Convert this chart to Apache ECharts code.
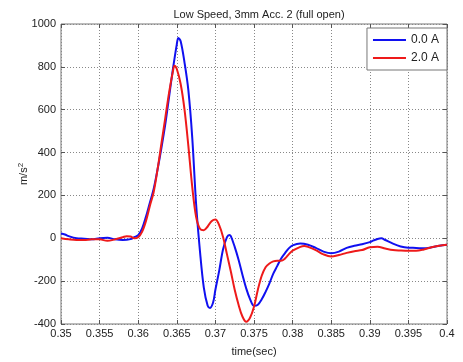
<!DOCTYPE html>
<html><head><meta charset="utf-8">
<script src="https://cdn.jsdelivr.net/npm/echarts@6/dist/echarts.min.js"></script>
<style>html,body{margin:0;padding:0;background:#fff}#c{width:463px;height:362px}</style>
</head><body><div id="c"></div>
<script>
var title = "Low Speed, 3mm Acc. 2 (full open)";
var seriesNames = ["0.0 A", "2.0 A"];
var tBlue = [0.350,0.3505,0.351,0.352,0.353,0.354,0.355,0.356,0.357,0.358,0.359,0.3595,0.360,0.3605,0.361,0.3615,0.362,0.3625,0.363,0.3635,0.364,0.3645,0.365,0.3652,0.3655,0.366,0.3665,0.367,0.3675,0.368,0.3685,0.369,0.3693,0.3697,0.370,0.3705,0.371,0.3715,0.3718,0.372,0.3725,0.373,0.3735,0.374,0.3745,0.375,0.3755,0.376,0.3765,0.377,0.3775,0.378,0.3785,0.379,0.3795,0.380,0.381,0.382,0.383,0.384,0.385,0.386,0.387,0.388,0.389,0.390,0.3905,0.391,0.3915,0.392,0.393,0.394,0.395,0.396,0.397,0.398,0.399,0.400];
var vBlue = [22,18,10,0,-2,-5,0,2,-5,-8,-4,5,15,45,100,165,230,320,420,530,660,790,905,935,920,820,690,470,160,-60,-230,-315,-325,-300,-240,-150,-50,5,15,10,-40,-100,-170,-235,-285,-315,-310,-285,-250,-210,-165,-130,-95,-70,-47,-33,-24,-30,-45,-62,-70,-62,-45,-35,-28,-18,-10,-3,0,-8,-25,-38,-44,-45,-47,-42,-35,-30];
var tRed = [0.350,0.351,0.352,0.353,0.354,0.355,0.356,0.357,0.358,0.3585,0.359,0.3595,0.360,0.3605,0.361,0.3615,0.362,0.3625,0.363,0.3635,0.364,0.3645,0.3647,0.365,0.3655,0.366,0.3665,0.367,0.3675,0.368,0.3685,0.369,0.3695,0.370,0.3705,0.371,0.3715,0.372,0.3725,0.373,0.3735,0.374,0.3745,0.375,0.3755,0.376,0.3765,0.377,0.3775,0.378,0.3785,0.379,0.3795,0.380,0.381,0.3815,0.382,0.383,0.384,0.385,0.386,0.387,0.388,0.389,0.390,0.391,0.392,0.393,0.394,0.395,0.396,0.397,0.398,0.399,0.400];
var vRed = [0,-5,-8,-8,-5,-5,-12,-5,5,10,8,0,5,30,80,150,215,320,440,560,680,780,805,790,720,600,430,240,100,45,38,55,80,88,60,5,-75,-155,-240,-310,-365,-390,-370,-320,-240,-175,-135,-118,-108,-105,-105,-95,-75,-58,-40,-36,-40,-55,-75,-85,-78,-68,-60,-55,-42,-40,-48,-55,-57,-58,-58,-52,-42,-35,-30];
var xLabel = "time(sec)";

function pairs(t, v){ return t.map(function(x,i){ return [x, v[i]]; }); }
var txt = '#222';
var ff = 'Liberation Sans, Arial';
var chart = echarts.init(document.getElementById('c'));
var tickStyle = {show:true, inside:true, length:4, lineStyle:{color:'#555'}};
chart.setOption({
  animation:false,
  backgroundColor:'#fff',
  title:{text:title, left:254, top:4, textAlign:'center', textStyle:{fontSize:11, fontWeight:'normal', color:txt, fontFamily:ff}},
  legend:{orient:'vertical', right:16, top:28, width:84, padding:[6,8,6,6], itemGap:6,
    backgroundColor:'#fff', borderColor:'#777', borderWidth:1,
    itemWidth:33, itemHeight:2, icon:'rect',
    textStyle:{fontSize:12, color:txt, fontFamily:ff},
    data:seriesNames},
  grid:{left:61, right:16, top:24, bottom:36, show:true, borderColor:'#777', borderWidth:1},
  xAxis:[{type:'value', min:0.35, max:0.4, interval:0.005,
    name:xLabel, nameLocation:'middle', nameGap:22,
    nameTextStyle:{fontSize:11, color:txt, fontFamily:ff},
    axisLine:{show:false, onZero:false}, axisTick:tickStyle,
    axisLabel:{fontSize:11, color:txt, margin:4, fontFamily:ff, formatter:function(v){return String(+v.toFixed(3));}},
    splitLine:{show:true, lineStyle:{type:[1,2], color:'#888', width:1}}},
   {type:'value', position:'top', min:0.35, max:0.4, interval:0.005,
    axisLine:{show:false, onZero:false}, axisTick:tickStyle, axisLabel:{show:false}, splitLine:{show:false}}],
  yAxis:[{type:'value', min:-400, max:1000, interval:200,
    name:'{b|m/s}{s|2}', nameLocation:'middle', nameGap:30, nameRotate:90, nameMoveOverlap:false,
    nameTextStyle:{rich:{b:{fontSize:11, color:txt, fontFamily:ff}, s:{fontSize:8, color:txt, fontFamily:ff, verticalAlign:'top', padding:[0,0,6,0]}}},
    axisLine:{show:false, onZero:false}, axisTick:tickStyle,
    axisLabel:{fontSize:11, color:txt, margin:5, fontFamily:ff, formatter:function(v){return String(v);}},
    splitLine:{show:true, lineStyle:{type:[1,2], color:'#888', width:1}}},
   {type:'value', position:'right', min:-400, max:1000, interval:200,
    axisLine:{show:false, onZero:false}, axisTick:tickStyle, axisLabel:{show:false}, splitLine:{show:false}}],
  series:[
    {name:seriesNames[0], type:'line', data:pairs(tBlue,vBlue), smooth:0.35, showSymbol:false, color:'#1010f0', lineStyle:{width:2, color:'#1010f0'}},
    {name:seriesNames[1], type:'line', data:pairs(tRed,vRed), smooth:0.35, showSymbol:false, color:'#ee1a1a', lineStyle:{width:2, color:'#ee1a1a'}}
  ]
});
</script></body></html>
